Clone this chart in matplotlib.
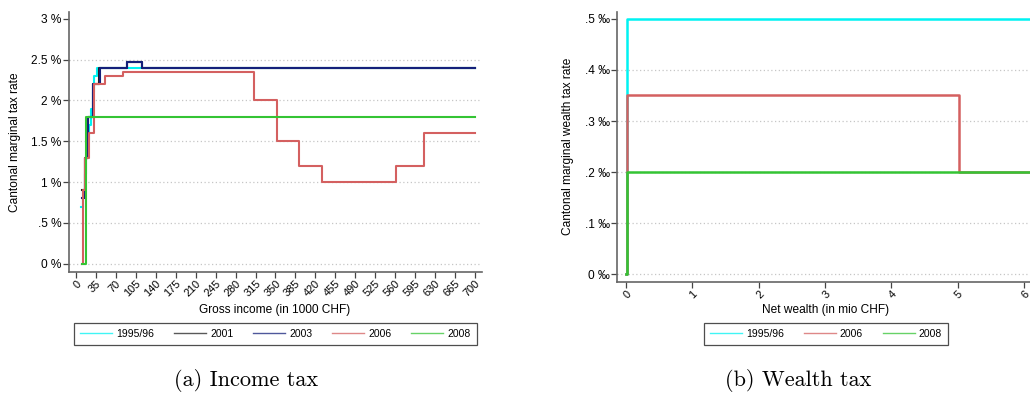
import numpy as np
import matplotlib
matplotlib.use("Agg")
import matplotlib.pyplot as plt

plt.rcParams["font.family"] = ["Liberation Sans", "DejaVu Sans"]

# colours per tariff year
colors = {"1995/96": "#00f2f2", "2001": "#222222", "2003": "#14207a",
          "2006": "#d46060", "2008": "#34c434"}

# income tax schedules: income (1000 CHF) where a bracket starts, marginal rate (%)
inc_9596_x = [9.5, 13, 15, 17, 20, 23, 26, 29, 32, 36, 700]
inc_9596_y = [0.7, 0.9, 1.1, 1.3, 1.5, 1.7, 1.9, 2.1, 2.3, 2.4, 2.4]
inc_2001_x = [10, 15, 21, 29, 40, 90, 115, 700]
inc_2001_y = [0.9, 1.3, 1.8, 2.2, 2.4, 2.47, 2.4, 2.4]
inc_2003_x = [10, 16, 21.5, 30, 42, 89, 115, 700]
inc_2003_y = [0.8, 1.3, 1.8, 2.2, 2.4, 2.47, 2.4, 2.4]
inc_2006_x = [11.5, 12, 16, 23, 32, 51, 83, 312, 352, 392, 432, 561, 611, 700]
inc_2006_y = [0, 0.9, 1.3, 1.6, 2.2, 2.3, 2.35, 2.0, 1.5, 1.2, 1.0, 1.2, 1.6, 1.6]
inc_2008_x = [11, 17.5, 700]
inc_2008_y = [0, 1.8, 1.8]

# wealth tax schedules: net wealth (mio CHF), marginal rate (per mille)
wlt_9596_x = [0, 0.02, 6.2]
wlt_9596_y = [0, 0.5, 0.5]
wlt_2006_x = [0, 0.02, 5.02, 6.2]
wlt_2006_y = [0, 0.35, 0.2, 0.2]
wlt_2008_x = [0, 0.02, 6.2]
wlt_2008_y = [0, 0.2, 0.2]

inc_yticks = [0, 0.5, 1, 1.5, 2, 2.5, 3]
inc_ylabels = ["0 %", ".5 %", "1 %", "1.5 %", "2 %", "2.5 %", "3 %"]
inc_xticks = list(range(0, 701, 35))
wlt_yticks = [0, 0.1, 0.2, 0.3, 0.4, 0.5]
wlt_ylabels = ["0 \u2030", ".1 \u2030", ".2 \u2030", ".3 \u2030", ".4 \u2030", ".5 \u2030"]
wlt_xticks = list(range(0, 7))

W, H = 1030, 394
fig = plt.figure(figsize=(W / 100, H / 100), dpi=100)

def box(x0, y0, x1, y1):
    return [x0 / W, 1 - y1 / H, (x1 - x0) / W, (y1 - y0) / H]

ax1 = fig.add_axes(box(69.3, 11.7, 481.7, 271.7))
ax2 = fig.add_axes(box(617.3, 11.7, 1032, 281.7))

lw = 1.5
fs_ytick = 8.6
fs_xtick = 7.9
fs_lab = 8.6
fs_leg = 7.5


def style(ax):
    for s in ("top", "right"):
        ax.spines[s].set_visible(False)
    for s in ("left", "bottom"):
        ax.spines[s].set_color("#666666")
        ax.spines[s].set_linewidth(1.2)
    ax.tick_params(axis="both", direction="out", length=4, width=0.9,
                   color="#444444", pad=1.5)
    ax.tick_params(axis="y", labelsize=fs_ytick)
    ax.tick_params(axis="x", labelsize=fs_xtick, pad=1.0)
    for lab in ax.get_xticklabels():
        lab.set_rotation(45)
        lab.set_ha("right")
        lab.set_rotation_mode("anchor")


# income tax panel
for yv in inc_yticks[:-1]:
    ax1.axhline(yv, color="#c6c6c6", lw=0.9, ls=(0, (1, 2)), zorder=0)
for lab, xs, ys in [("1995/96", inc_9596_x, inc_9596_y),
                    ("2001", inc_2001_x, inc_2001_y),
                    ("2003", inc_2003_x, inc_2003_y),
                    ("2006", inc_2006_x, inc_2006_y),
                    ("2008", inc_2008_x, inc_2008_y)]:
    ax1.step(xs, ys, where="post", color=colors[lab], lw=lw, label=lab)
ax1.set_xlim(-11.75, 711.8)
ax1.set_ylim(-0.098, 3.088)
ax1.set_yticks(inc_yticks, inc_ylabels)
ax1.set_xticks(inc_xticks, [str(v) for v in inc_xticks])
style(ax1)
ax1.set_xlabel("Gross income (in 1000 CHF)", fontsize=fs_lab)
ax1.xaxis.set_label_coords(0.499, -0.125)
ax1.set_ylabel("Cantonal marginal tax rate", fontsize=fs_lab)
ax1.yaxis.set_label_coords(-0.118, 0.5)

# wealth tax panel
for yv in wlt_yticks[:-1]:
    ax2.axhline(yv, color="#c6c6c6", lw=0.9, ls=(0, (1, 2)), zorder=0)
for lab, xs, ys in [("1995/96", wlt_9596_x, wlt_9596_y),
                    ("2006", wlt_2006_x, wlt_2006_y),
                    ("2008", wlt_2008_x, wlt_2008_y)]:
    ax2.step(xs, ys, where="post", color=colors[lab], lw=lw + 0.3, label=lab)
ax2.set_xlim(-0.13, 6.12)
ax2.set_ylim(-0.0145, 0.514)
ax2.set_yticks(wlt_yticks, wlt_ylabels)
ax2.set_xticks(wlt_xticks, [str(v) for v in wlt_xticks])
style(ax2)
ax2.set_xlabel("Net wealth (in mio CHF)", fontsize=fs_lab)
ax2.xaxis.set_label_coords(0.503, -0.082)
ax2.set_ylabel("Cantonal marginal wealth tax rate", fontsize=fs_lab)
ax2.yaxis.set_label_coords(-0.104, 0.5)

# legends below each panel, one row each
for ax, xc, n in [(ax1, 275.5, 5), (ax2, 826, 3)]:
    h, l = ax.get_legend_handles_labels()
    leg = fig.legend(h, l, loc="center", ncol=n,
                     bbox_to_anchor=(xc / W, 1 - 334 / H),
                     bbox_transform=fig.transFigure, fontsize=fs_leg,
                     frameon=True, fancybox=False, handlelength=3.07,
                     handletextpad=0.38, columnspacing=1.92,
                     borderaxespad=0, borderpad=0.58)
    frame = leg.get_frame()
    frame.set_edgecolor("#222222")
    frame.set_linewidth(0.9)
    for line in leg.get_lines():
        line.set_linewidth(1.0)
        line.set_alpha(0.75)

# sub-captions
fig.text(246 / W, 1 - 381 / H, "(a) Income tax", family="cmr10", fontsize=16,
         ha="center", va="center")
fig.text(798 / W, 1 - 381 / H, "(b) Wealth tax", family="cmr10", fontsize=16,
         ha="center", va="center")

fig.savefig("out.png", dpi=100)
